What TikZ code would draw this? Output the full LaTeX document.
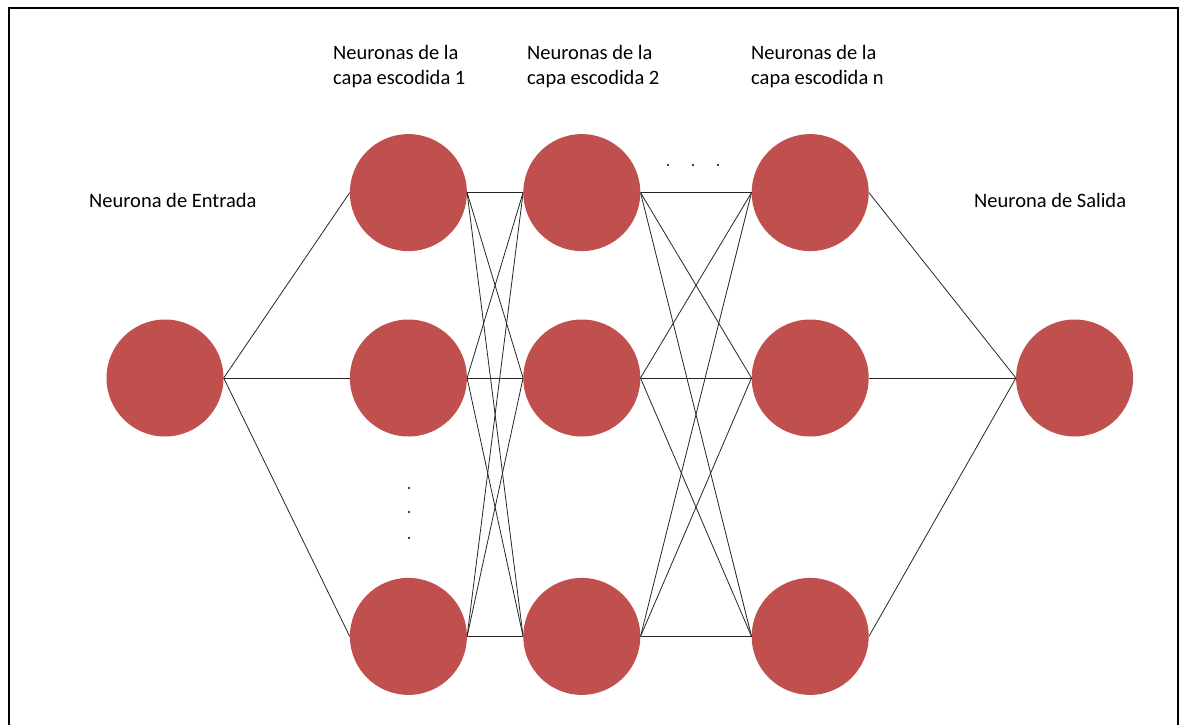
\documentclass[tikz,border=0pt]{standalone}
\usepackage{fontspec}
\setmainfont{Carlito}
\usetikzlibrary{positioning}
\definecolor{neuronred}{HTML}{C0504D}
\tikzset{
  neuron/.style={circle,fill=neuronred,minimum size=117pt,inner sep=0},
  link/.style={line width=0.8pt,black!85},
  caption/.style={font=\fontsize{20.5}{25}\selectfont,inner sep=0,align=left},
}

\begin{document}
\begin{tikzpicture}[x=1pt,y=-1pt]
  \useasboundingbox (0,0) rectangle (1180,725);
  \draw[line width=1.5pt] (9,735) -- (9,8) -- (1178,8) -- (1178,735); % frame, open at the bottom

  \node[neuron] (in) at (165,378) {};
  \node[neuron,right=126pt of in] (h1b) {};
  \node[neuron,above=68pt of h1b] (h1a) {};
  \node[neuron,below=141pt of h1b] (h1c) {};
  \node[neuron,right=56pt of h1a] (h2a) {};
  \node[neuron,right=56pt of h1b] (h2b) {};
  \node[neuron,right=56pt of h1c] (h2c) {};
  \node[neuron,right=111pt of h2a] (hna) {};
  \node[neuron,right=111pt of h2b] (hnb) {};
  \node[neuron,right=111pt of h2c] (hnc) {};
  \node[neuron,right=147pt of hnb] (out) {};

  \node[caption,anchor=base west] (lin) at (89,207) {Neurona de Entrada};
  \node[caption,anchor=base west] (lout) at (974,207) {Neurona de Salida};
  \node[caption,anchor=north west] (l1) at (333,45) {Neuronas de la\\capa escodida 1};
  \node[caption,anchor=north west] (l2) at (527,45) {Neuronas de la\\capa escodida 2};
  \node[caption,anchor=north west] (ln) at (751,45) {Neuronas de la\\capa escodida n};

  % dots for the layers and neurons that are left out
  \foreach \x in {668,693,718} \fill (\x,165) circle (1.2pt);
  \foreach \y in {488,512,538} \fill (409,\y) circle (1.2pt);

  % connections
  \foreach \t in {h1a,h1b,h1c} \draw[link] (in.east) -- (\t.west);
  \foreach \s in {h1a,h1b,h1c} \foreach \t in {h2a,h2b,h2c} \draw[link] (\s.east) -- (\t.west);
  \foreach \s in {h2a,h2b,h2c} \foreach \t in {hna,hnb,hnc} \draw[link] (\s.east) -- (\t.west);
  \foreach \s in {hna,hnb,hnc} \draw[link] (\s.east) -- (out.west);
\end{tikzpicture}
\end{document}
